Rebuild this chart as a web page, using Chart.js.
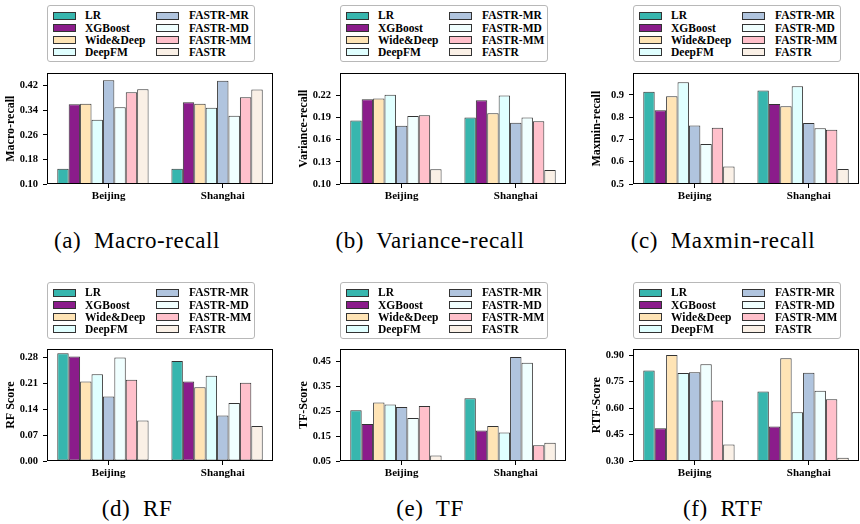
<!DOCTYPE html>
<html>
<head>
<meta charset="utf-8">
<script src="https://cdn.jsdelivr.net/npm/chart.js@4.4.1/dist/chart.umd.min.js"></script>
<style>
  html, body { margin: 0; padding: 0; background: #fff; }
  #fig { position: relative; width: 860px; height: 524px; overflow: hidden; }
  canvas { position: absolute; }
  .legend { position: absolute; box-sizing: border-box; width: 208px; height: 57px;
            border: 1px solid #b8b8b8; border-radius: 3px; font: bold 11.5px "Liberation Serif"; }
  .legend .sw { position: absolute; width: 23px; height: 8px; box-sizing: border-box; border: 1px solid #333; }
  .legend .lbl { position: absolute; height: 12px; line-height: 12px; white-space: nowrap; }
  .caption { position: absolute; font: 23px "Liberation Serif"; white-space: pre; transform: translate(-50%, -50%); letter-spacing: 0.6px; }
</style>
</head>
<body>
<div id="fig"></div>
<script>
// Data
const categories = ['Beijing', 'Shanghai'];
const methods = ['LR', 'XGBoost', 'Wide&Deep', 'DeepFM', 'FASTR-MR', 'FASTR-MD', 'FASTR-MM', 'FASTR'];
const colors = ['#37b6ae', '#8b1c8b', '#ffe4b5', '#e0ffff', '#b0c4de', '#f0ffff', '#ffc0cb', '#faf0e6'];

// one row per city, one value per method
const macroRecall = [
  [0.150, 0.359, 0.361, 0.309, 0.437, 0.350, 0.398, 0.408],
  [0.150, 0.366, 0.361, 0.348, 0.436, 0.322, 0.382, 0.407]
];
const varianceRecall = [
  [0.186, 0.215, 0.216, 0.221, 0.179, 0.192, 0.193, 0.120],
  [0.190, 0.2135, 0.196, 0.220, 0.183, 0.190, 0.185, 0.119]
];
const maxminRecall = [
  [0.914, 0.831, 0.894, 0.957, 0.763, 0.680, 0.753, 0.579],
  [0.920, 0.859, 0.849, 0.939, 0.774, 0.750, 0.744, 0.567]
];
const rfScore = [
  [0.292, 0.283, 0.215, 0.235, 0.175, 0.280, 0.220, 0.110],
  [0.271, 0.215, 0.200, 0.231, 0.123, 0.157, 0.212, 0.095]
];
const tfScore = [
  [0.254, 0.199, 0.286, 0.278, 0.268, 0.223, 0.272, 0.072],
  [0.303, 0.173, 0.191, 0.165, 0.469, 0.446, 0.113, 0.124]
];
const rtfScore = [
  [0.813, 0.486, 0.900, 0.799, 0.803, 0.848, 0.642, 0.394],
  [0.694, 0.495, 0.882, 0.576, 0.800, 0.698, 0.649, 0.318]
];

// Tick labels
const macroTicks = [0.10, 0.18, 0.26, 0.34, 0.42];
const varianceTicks = [0.10, 0.13, 0.16, 0.19, 0.22];
const maxminTicks = [0.5, 0.6, 0.7, 0.8, 0.9];
const rfTicks = [0.00, 0.07, 0.14, 0.21, 0.28];
const tfTicks = [0.05, 0.15, 0.25, 0.35, 0.45];
const rtfTicks = [0.30, 0.45, 0.60, 0.75, 0.90];

const panels = [
  { values: macroRecall, ticks: macroTicks, min: 0.10, max: 0.46, dec: 2, title: 'Macro-recall', caption: '(a)  Macro-recall', col: 0, row: 0 },
  { values: varianceRecall, ticks: varianceTicks, min: 0.10, max: 0.25, dec: 2, title: 'Variance-recall', caption: '(b)  Variance-recall', col: 1, row: 0 },
  { values: maxminRecall, ticks: maxminTicks, min: 0.5, max: 0.997, dec: 1, title: 'Maxmin-recall', caption: '(c)  Maxmin-recall', col: 2, row: 0 },
  { values: rfScore, ticks: rfTicks, min: 0, max: 0.3025, dec: 2, title: 'RF Score', caption: '(d)  RF', col: 0, row: 1 },
  { values: tfScore, ticks: tfTicks, min: 0.05, max: 0.50, dec: 2, title: 'TF-Score', caption: '(e)  TF', col: 1, row: 1 },
  { values: rtfScore, ticks: rtfTicks, min: 0.30, max: 0.9325, dec: 2, title: 'RTF-Score', caption: '(f)  RTF', col: 2, row: 1 }
];

// Layout
const colLeft = [47, 340, 633];
const rowTop = [68, 344];
const rowPlotH = [116, 117];
const legendTop = [5, 282];
const captionY = [241, 509];
const plotW = 226;
const axisW = 47, axisH = 22, padTop = 6, padRight = 4;
const catPct = 0.8;
const tickShift = catPct / methods.length / 2;

const fig = document.getElementById('fig');

const frame = {
  id: 'frame',
  afterDatasetsDraw(chart) {
    const a = chart.chartArea, ctx = chart.ctx;
    ctx.save();
    ctx.strokeStyle = '#000';
    ctx.lineWidth = 1;
    ctx.strokeRect(Math.round(a.left) + 0.5, Math.round(a.top) + 0.5,
      Math.round(a.right - a.left) - 1, Math.round(a.bottom - a.top) - 1);
    ctx.restore();
  }
};

const makeLegend = (left, top) => {
  const box = document.createElement('div');
  box.className = 'legend';
  box.style.left = left + 'px';
  box.style.top = top + 'px';
  methods.forEach((m, i) => {
    const c = Math.floor(i / 4), r = i % 4;
    const cy = 9.8 + 12.2 * r;
    const sw = document.createElement('div');
    sw.className = 'sw';
    sw.style.left = (4.5 + c * 103.5) + 'px';
    sw.style.top = (cy - 4) + 'px';
    sw.style.background = colors[i];
    const lbl = document.createElement('div');
    lbl.className = 'lbl';
    lbl.style.left = (37 + c * 104) + 'px';
    lbl.style.top = (cy - 6.5) + 'px';
    lbl.textContent = m;
    box.appendChild(sw);
    box.appendChild(lbl);
  });
  fig.appendChild(box);
};

panels.forEach(p => {
  const plotH = rowPlotH[p.row];
  const cv = document.createElement('canvas');
  const w = axisW + plotW + padRight, h = padTop + plotH + axisH;
  cv.width = w; cv.height = h;
  cv.style.width = w + 'px'; cv.style.height = h + 'px';
  cv.style.left = (colLeft[p.col] - axisW) + 'px';
  cv.style.top = (rowTop[p.row] - padTop) + 'px';
  fig.appendChild(cv);

  new Chart(cv, {
    type: 'bar',
    data: {
      datasets: methods.map((m, i) => ({
        label: m,
        data: categories.map((c, k) => ({ x: k, y: p.values[k][i] })),
        backgroundColor: colors[i],
        borderColor: 'rgba(0,0,0,0.8)',
        borderWidth: 1,
        borderSkipped: false,
        categoryPercentage: catPct,
        barPercentage: 1
      }))
    },
    options: {
      responsive: false,
      devicePixelRatio: 1,
      animation: false,
      layout: { padding: { left: 0, top: padTop, right: padRight, bottom: 0 } },
      plugins: { legend: { display: false }, tooltip: { enabled: false } },
      scales: {
        x: {
          type: 'linear',
          offset: false,
          min: -0.49,
          max: categories.length - 1 + 0.49,
          afterBuildTicks: s => { s.ticks = categories.map((c, k) => ({ value: k + tickShift })); },
          afterFit: s => { s.height = axisH; },
          grid: { offset: false, drawOnChartArea: false, drawTicks: true, tickLength: 4, color: '#000' },
          border: { display: false },
          ticks: {
            callback: (v, i) => categories[i],
            color: '#000', padding: 2, maxRotation: 0, autoSkip: false,
            font: { family: 'Liberation Serif', weight: 'bold', size: 11 }
          }
        },
        y: {
          min: p.min,
          max: p.max,
          afterBuildTicks: s => { s.ticks = p.ticks.map(v => ({ value: v })); },
          afterFit: s => { s.width = axisW; },
          grid: { drawOnChartArea: false, drawTicks: true, tickLength: 4, color: '#000' },
          border: { display: false },
          ticks: {
            callback: v => v.toFixed(p.dec),
            color: '#000', padding: 5,
            font: { family: 'Liberation Serif', weight: 'bold', size: 10.5 }
          },
          title: {
            display: true, text: p.title, color: '#000', padding: { top: 4, bottom: 0 },
            font: { family: 'Liberation Serif', weight: 'bold', size: 12 }
          }
        }
      }
    },
    plugins: [frame]
  });

  makeLegend(colLeft[p.col], legendTop[p.row]);

  const cap = document.createElement('div');
  cap.className = 'caption';
  cap.textContent = p.caption;
  cap.style.left = (colLeft[p.col] + 90) + 'px';
  cap.style.top = captionY[p.row] + 'px';
  fig.appendChild(cap);
});
</script>
</body>
</html>
